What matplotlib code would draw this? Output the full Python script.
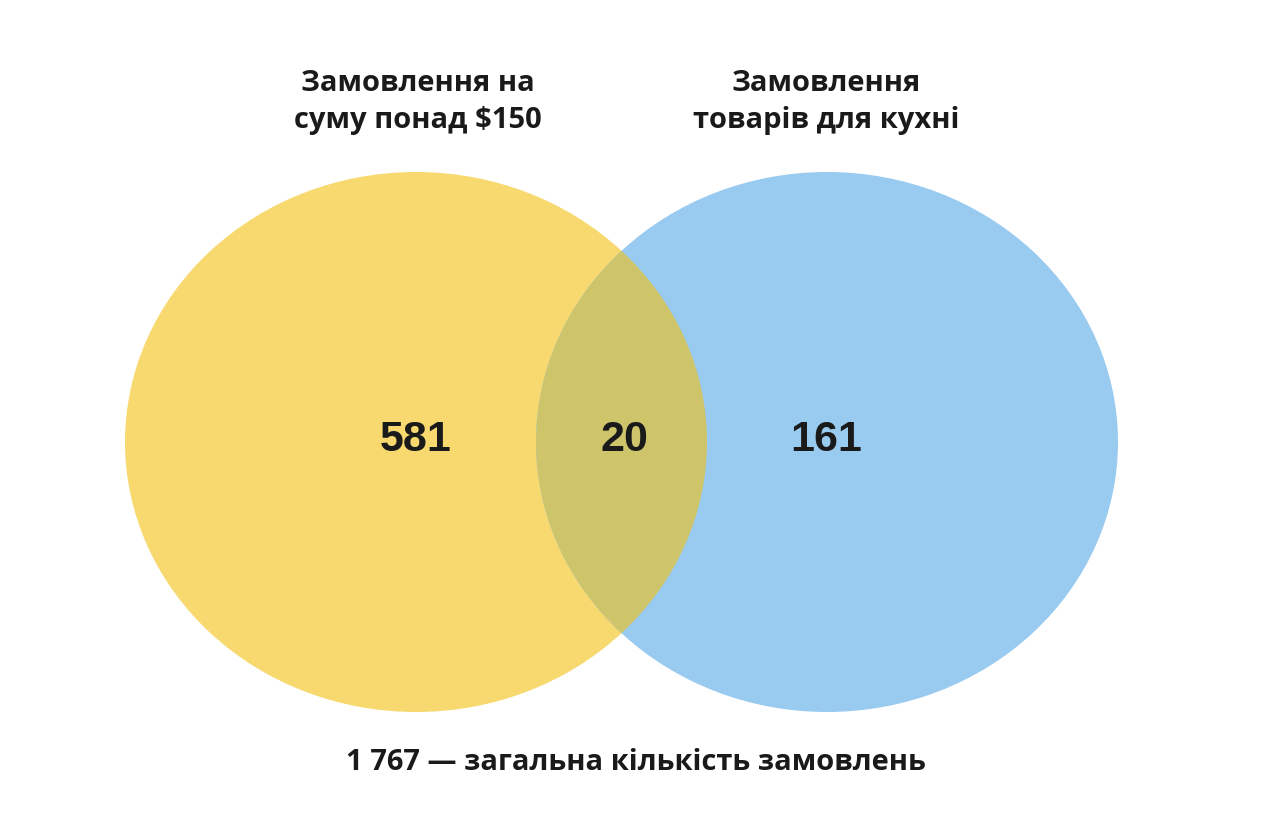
import matplotlib.pyplot as plt
from matplotlib.patches import Ellipse

# data
set_titles = ["Замовлення на\nсуму понад $150", "Замовлення\nтоварів для кухні"]
only_left = 581
both = 20
only_right = 161
total = 1767

yellow = "#F7D96F"
blue = "#99CAF0"
overlap = "#CEC56B"

fig = plt.figure(figsize=(12.73, 8.32), dpi=100)
ax = fig.add_axes([0, 0, 1, 1])
ax.set_xlim(0, 1273)
ax.set_ylim(832, 0)
ax.axis("off")

left = Ellipse((416, 442), 582, 540, color=yellow, lw=0)
right = Ellipse((827, 442), 582, 540, color=blue, lw=0)
ax.add_patch(left)
ax.add_patch(right)
mid = Ellipse((416, 442), 582, 540, color=overlap, lw=0)
ax.add_patch(mid)
mid.set_clip_path(right)

title_font = ["Open Sans", "DejaVu Sans"]
ax.text(418, 102, set_titles[0], ha="center", va="center", fontsize=21,
        fontweight="bold", family=title_font, color="#1a1a1a", linespacing=1.35)
ax.text(826, 102, set_titles[1], ha="center", va="center", fontsize=21,
        fontweight="bold", family=title_font, color="#1a1a1a", linespacing=1.35)

num_font = ["Liberation Sans", "DejaVu Sans"]
for x, v in [(416, only_left), (624, both), (826, only_right)]:
    ax.text(x, 440, str(v), ha="center", va="center", fontsize=31,
            fontweight="bold", family=num_font, color="#1a1a1a")

total_str = f"{total:,}".replace(",", " ")
ax.text(636, 763, f"{total_str} — загальна кількість замовлень", ha="center",
        va="center", fontsize=21, fontweight="bold", family=title_font, color="#1a1a1a")

fig.savefig("out.png", dpi=100)
